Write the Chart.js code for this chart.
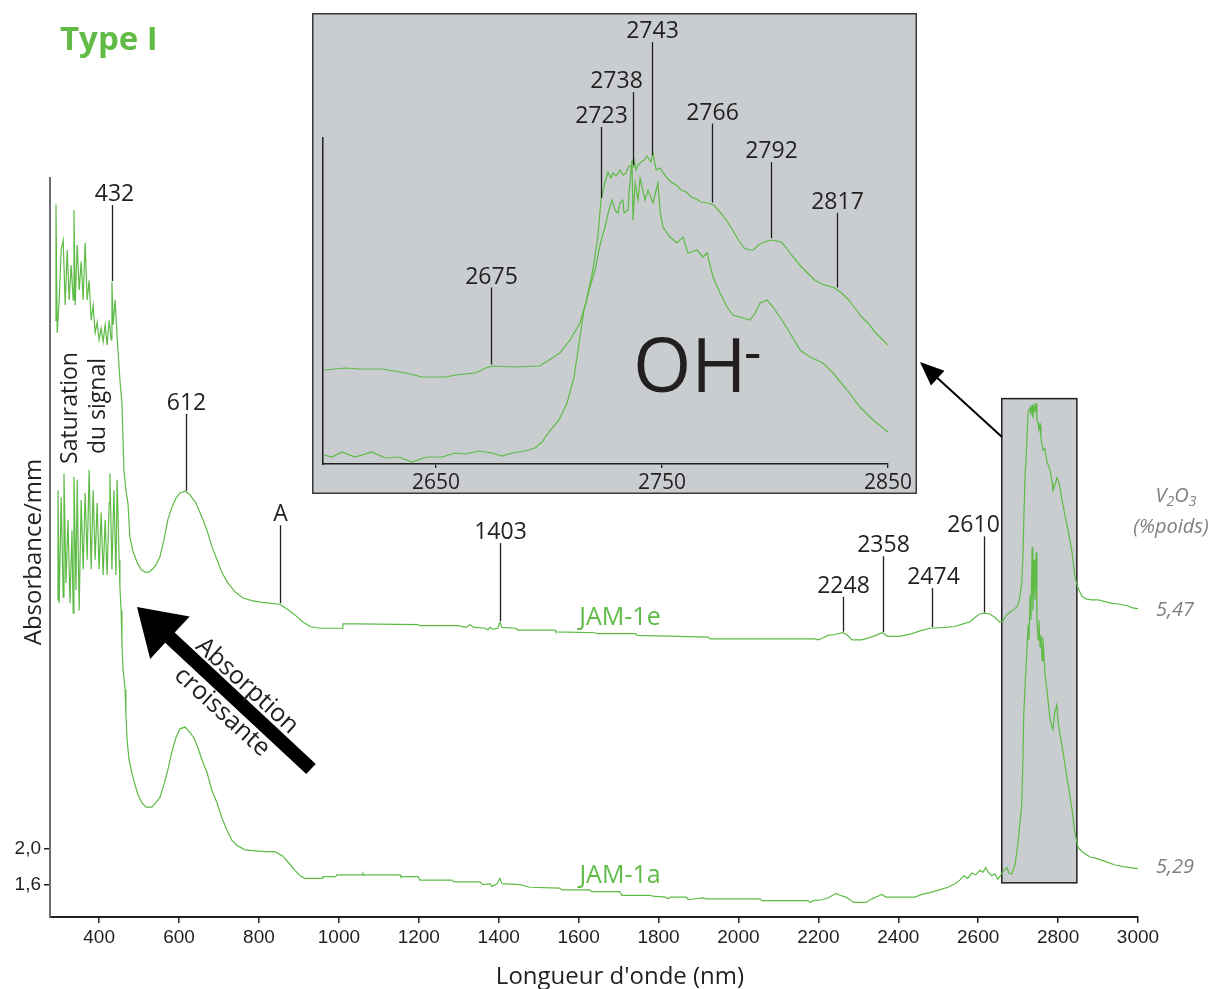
<!DOCTYPE html>
<html>
<head>
<meta charset="utf-8">
<script src="https://cdn.jsdelivr.net/npm/chart.js@4.4.0/dist/chart.umd.min.js"></script>
<style>
  body { margin: 0; background: #fff; }
  #wrap { position: relative; width: 1214px; height: 989px; }
  #main { position: absolute; left: 0; top: 0; }
  #inset { position: absolute; left: 312px; top: 13px; }
</style>
</head>
<body>
<div id="wrap">
  <canvas id="main" width="1214" height="989"></canvas>
  <canvas id="inset" width="605" height="481"></canvas>
</div>
<script>
// ---- data (wavelength nm, absorbance/mm) ----
var jam1e = [
  [290,7.94],[292,9.24],[295,7.80],[300,8.17],[305,8.73],[310,8.84],[315,8.11],[320,8.73],[325,8.17],[330,8.56],
  [335,8.17],[337,9.18],[340,8.11],[345,8.79],[350,8.28],[355,8.60],[360,8.17],[365,8.81],[370,8.17],[375,8.39],
  [380,7.94],[385,8.11],[390,7.80],[395,7.92],[400,7.72],[405,7.85],[410,7.70],[415,7.89],[420,7.66],[425,7.94],
  [430,7.72],[432,8.37],[435,7.89],[440,8.17],[445,7.75],
  [452,7.27],[457,7.01],[462,6.26],[467,6.03],[472,5.89],[477,5.50],[485,5.34],[495,5.22],[505,5.14],
  [515,5.11],[525,5.11],[532,5.14],[542,5.19],[552,5.28],[562,5.47],[572,5.70],[582,5.84],[592,5.94],[602,6.00],
  [615,6.02],[627,5.98],[642,5.89],[657,5.73],[670,5.58],[682,5.40],[695,5.25],[707,5.11],[722,4.99],[740,4.89],
  [760,4.82],[782,4.79],[807,4.77],[832,4.76],[852,4.75],[872,4.69],[890,4.63],[910,4.55],[928,4.50],[953,4.48],
  [1008,4.48],[1010,4.53],[1048,4.53],[1198,4.52],[1203,4.51],[1298,4.51],[1318,4.49],[1328,4.52],[1338,4.49],[1366,4.48],
  [1373,4.46],[1378,4.49],[1386,4.47],[1398,4.48],[1403,4.55],[1408,4.49],[1443,4.48],[1448,4.46],[1541,4.46],[1543,4.44],
  [1643,4.43],[1646,4.42],[1743,4.42],[1746,4.40],[1924,4.38],[1929,4.36],[2191,4.36],[2199,4.35],[2211,4.37],[2224,4.40],
  [2241,4.41],[2261,4.43],[2271,4.41],[2284,4.35],[2309,4.35],[2324,4.37],[2344,4.40],[2359,4.43],[2374,4.39],[2404,4.39],
  [2434,4.42],[2454,4.45],[2479,4.48],[2517,4.49],[2542,4.50],[2562,4.53],[2579,4.55],[2594,4.61],[2604,4.64],[2617,4.65],
  [2629,4.64],[2642,4.60],[2654,4.55],[2662,4.56],[2669,4.62],[2679,4.66],[2689,4.69],[2699,4.73],[2704,4.83],[2709,4.99],
  [2712,5.28],[2714,5.66],[2717,6.15],[2722,6.60],[2725,6.91],[2730,6.96],[2732,6.88],[2735,6.99],[2737,6.84],[2740,6.97],
  [2742,6.91],[2745,7.01],[2747,6.82],[2750,6.79],[2752,6.71],[2755,6.76],[2757,6.62],[2762,6.48],[2767,6.50],[2772,6.35],
  [2780,6.26],[2785,6.12],[2787,6.03],[2792,6.09],[2797,6.17],[2802,6.12],[2810,5.92],[2817,5.75],[2825,5.58],[2835,5.33],
  [2842,5.06],[2850,4.93],[2860,4.84],[2870,4.81],[2885,4.80],[2900,4.80],[2917,4.78],[2935,4.76],[2955,4.75],[2975,4.73],
  [2987,4.71],[3000,4.70]
];

var jam1a = [
  [295,4.80],[297,6.03],[300,4.76],[305,5.95],[310,4.83],[312,6.22],[317,4.99],[322,5.70],[327,4.76],[332,5.58],
  [335,4.65],[337,6.18],[342,4.91],[345,6.15],[350,4.68],[355,5.92],[360,5.14],[365,6.00],[370,5.25],[375,6.26],
  [380,5.14],[385,6.03],[390,5.25],[395,5.89],[400,5.14],[405,5.78],[410,5.08],[415,5.70],[420,5.08],[425,5.89],
  [427,6.22],[432,5.14],[437,6.03],[442,5.08],[445,6.15],[450,5.25],[452,4.94],
  [455,4.68],[457,4.31],[460,4.01],[465,3.79],[467,3.51],[470,3.22],
  [475,3.00],[482,2.85],[490,2.72],[497,2.61],[507,2.52],[517,2.47],[532,2.47],[542,2.52],[552,2.58],[562,2.72],
  [572,2.89],[582,3.09],[592,3.25],[602,3.35],[615,3.37],[627,3.31],[637,3.25],[647,3.14],[660,2.97],[670,2.86],
  [682,2.66],[695,2.52],[707,2.35],[720,2.21],[732,2.10],[745,2.04],[765,1.99],[790,1.98],[815,1.97],[840,1.97],
  [860,1.92],[875,1.84],[890,1.76],[903,1.70],[915,1.67],[958,1.67],[960,1.69],[992,1.69],[995,1.71],[1058,1.71],
  [1060,1.73],[1064,1.70],[1068,1.71],[1153,1.71],[1155,1.69],[1198,1.69],[1203,1.65],[1283,1.65],[1288,1.63],[1353,1.63],
  [1361,1.60],[1378,1.61],[1383,1.58],[1396,1.61],[1403,1.67],[1408,1.61],[1453,1.60],[1478,1.57],[1553,1.56],[1558,1.54],
  [1628,1.54],[1633,1.52],[1703,1.52],[1708,1.48],[1778,1.48],[1786,1.47],[1816,1.46],[1824,1.44],[1829,1.46],[1869,1.46],
  [1874,1.43],[1911,1.45],[1919,1.44],[2054,1.44],[2059,1.42],[2174,1.42],[2179,1.40],[2187,1.42],[2209,1.43],[2224,1.45],
  [2236,1.48],[2244,1.50],[2254,1.48],[2269,1.46],[2279,1.43],[2289,1.40],[2319,1.40],[2334,1.44],[2349,1.47],[2359,1.49],
  [2369,1.46],[2442,1.46],[2459,1.49],[2479,1.51],[2509,1.55],[2524,1.57],[2542,1.61],[2554,1.65],[2564,1.70],[2574,1.67],
  [2584,1.73],[2594,1.71],[2604,1.76],[2612,1.74],[2619,1.79],[2627,1.73],[2634,1.70],[2642,1.72],[2649,1.66],[2657,1.71],
  [2664,1.76],[2672,1.79],[2677,1.73],[2684,1.72],[2692,1.82],[2699,2.04],[2704,2.27],[2709,2.49],[2712,3.00],[2714,3.51],
  [2717,3.79],[2722,4.24],[2725,4.52],[2727,4.35],[2730,4.85],[2732,4.57],[2735,5.39],[2737,4.68],[2740,5.25],[2742,4.80],
  [2745,5.33],[2747,4.57],[2750,4.35],[2752,4.57],[2755,4.27],[2757,4.40],[2760,4.12],[2762,4.38],[2767,3.98],[2772,3.79],
  [2780,3.45],[2787,3.34],[2792,3.54],[2797,3.62],[2800,3.42],[2810,3.15],[2822,2.81],[2835,2.44],[2842,2.18],[2850,2.02],
  [2860,1.97],[2880,1.91],[2892,1.90],[2905,1.88],[2925,1.85],[2942,1.82],[2967,1.80],[3000,1.78]
];

// OH- region, inset (arbitrary units)
var inset1e = [
  [2600.4,0.94],[2609.9,0.96],[2616.1,0.95],[2626.3,0.95],[2636.5,0.91],[2644.0,0.87],[2654.2,0.87],[2658.7,0.89],
  [2667.5,0.91],[2672.0,0.96],[2675.1,0.98],[2684.0,0.97],[2695.9,0.98],[2698.6,1.02],[2704.8,1.11],[2709.3,1.24],
  [2713.7,1.41],[2716.3,1.61],[2719.4,1.94],[2721.6,2.27],[2723.0,2.64],[2724.7,2.81],[2726.1,2.92],[2727.4,2.86],
  [2728.3,2.91],[2729.7,2.88],[2731.4,2.94],[2732.7,2.89],[2734.1,2.91],[2735.4,2.98],[2737.2,2.97],[2737.6,3.06],
  [2738.5,2.94],[2739.4,2.99],[2740.7,3.02],[2742.1,3.04],[2743.4,3.08],[2745.1,3.02],[2746.0,3.11],[2747.4,2.94],
  [2749.2,2.96],[2750.5,2.91],[2752.3,2.86],[2754.0,2.82],[2756.3,2.79],[2758.5,2.74],[2760.7,2.72],[2762.9,2.67],
  [2765.1,2.65],[2767.3,2.62],[2770.0,2.61],[2772.7,2.59],[2774.9,2.54],[2777.1,2.48],[2779.3,2.41],[2781.5,2.33],
  [2783.8,2.24],[2786.4,2.16],[2788.6,2.14],[2790.4,2.14],[2792.7,2.19],[2795.3,2.22],[2798.4,2.24],[2800.6,2.23],
  [2802.9,2.22],[2805.1,2.16],[2807.3,2.09],[2809.5,2.03],[2811.7,1.97],[2814.4,1.91],[2817.5,1.84],[2820.6,1.80],
  [2823.7,1.78],[2826.4,1.76],[2829.5,1.71],[2832.6,1.64],[2835.3,1.56],[2838.4,1.47],[2841.5,1.40],[2844.2,1.32],
  [2847.3,1.25],[2850.0,1.19]
];
var inset1a = [
  [2600.4,0.09],[2604.0,0.07],[2608.4,0.12],[2614.2,0.07],[2621.7,0.12],[2627.4,0.06],[2633.6,0.07],[2639.4,0.02],
  [2646.0,0.07],[2652.7,0.07],[2658.4,0.11],[2662.8,0.10],[2669.0,0.13],[2674.8,0.11],[2679.2,0.08],[2683.6,0.11],
  [2689.4,0.13],[2693.8,0.16],[2696.9,0.22],[2700.0,0.32],[2704.4,0.44],[2708.0,0.61],[2711.1,0.87],[2713.3,1.21],
  [2715.5,1.54],[2718.1,1.77],[2720.4,1.94],[2722.1,2.14],[2723.5,2.27],[2724.8,2.37],[2726.5,2.54],[2727.9,2.64],
  [2729.2,2.54],[2730.5,2.51],[2731.4,2.61],[2732.7,2.64],[2733.2,2.51],[2735.0,2.54],[2735.4,2.71],[2736.7,3.04],
  [2737.2,2.44],[2738.1,2.81],[2739.4,2.64],[2740.3,2.86],[2742.5,2.64],[2743.8,2.74],[2746.0,2.61],[2748.2,2.81],
  [2749.1,2.54],[2750.4,2.37],[2753.5,2.27],[2756.6,2.21],[2759.3,2.27],[2761.5,2.11],[2765.5,2.14],[2768.1,2.07],
  [2769.9,2.11],[2772.6,1.87],[2775.7,1.71],[2778.8,1.57],[2781.4,1.49],[2785.8,1.46],[2788.9,1.44],[2791.2,1.51],
  [2793.4,1.61],[2796.5,1.64],[2799.1,1.57],[2803.1,1.44],[2806.6,1.31],[2811.1,1.14],[2815.5,1.07],[2821.2,1.01],
  [2825.7,0.91],[2831.9,0.74],[2837.6,0.57],[2843.4,0.44],[2850.0,0.32]
];

var xTicks = [400, 600, 800, 1000, 1200, 1400, 1600, 1800, 2000, 2200, 2400, 2600, 2800, 3000];
var yTicks = [1.6, 2.0];
var insetTicks = [2650, 2750, 2850];

var peakLabels = ['432', '612', 'A', '1403', '2248', '2358', '2474', '2610'];
var peakNm = [432, 617, 852, 1403, 2261, 2361, 2484, 2614];
var insetLabels = ['2675', '2723', '2738', '2743', '2766', '2792', '2817'];
var insetNm = [2674.3, 2723.0, 2737.2, 2745.6, 2772.1, 2798.2, 2827.4];
var oxideLabels = ['5,47', '5,29'];

// ---- styling ----
var green = '#5dbb46';
var ink = '#231f20';
var greyText = '#7d7f82';
var boxFill = '#c9cdd0';
var leaderLen = [76, 77, 78, 78, 35, 76, 39, 76];
var labelDx = [2, 0, 0, 0, 0, 0, 1, -11];
var insetLeader = [77, 71, 73, 113, 79, 76, 75];
var insetDx = [0, 0, -17, 0, 0, 0, 0];

Chart.defaults.font.family = '"Open Sans", sans-serif';
Chart.defaults.color = ink;

function valueAt(series, nm) {
  for (var i = 1; i < series.length; i++) {
    if (series[i][0] >= nm) {
      var a = series[i - 1], b = series[i];
      return a[1] + (b[1] - a[1]) * (nm - a[0]) / (b[0] - a[0]);
    }
  }
  return series[series.length - 1][1];
}

function txt(ctx, s, x, y, font, color, align, rot, base) {
  ctx.save();
  ctx.translate(x, y);
  if (rot) ctx.rotate(rot);
  ctx.font = font;
  ctx.fillStyle = color;
  ctx.textAlign = align || 'center';
  ctx.textBaseline = base || 'alphabetic';
  ctx.fillText(s, 0, 0);
  ctx.restore();
}

function toPts(series) {
  return series.map(function (p) { return { x: p[0], y: p[1] }; });
}

// big arrow "Absorption croissante"
function bigArrow(ctx, tip, tail, headLen, headHalf, shaftHalf) {
  var dx = tail[0] - tip[0], dy = tail[1] - tip[1];
  var L = Math.sqrt(dx * dx + dy * dy);
  var ux = dx / L, uy = dy / L, nx = -uy, ny = ux;
  var bx = tip[0] + ux * headLen, by = tip[1] + uy * headLen;
  ctx.beginPath();
  ctx.moveTo(tip[0], tip[1]);
  ctx.lineTo(bx + nx * headHalf, by + ny * headHalf);
  ctx.lineTo(bx + nx * shaftHalf, by + ny * shaftHalf);
  ctx.lineTo(tail[0] + nx * shaftHalf, tail[1] + ny * shaftHalf);
  ctx.lineTo(tail[0] - nx * shaftHalf, tail[1] - ny * shaftHalf);
  ctx.lineTo(bx - nx * shaftHalf, by - ny * shaftHalf);
  ctx.lineTo(bx - nx * headHalf, by - ny * headHalf);
  ctx.closePath();
  ctx.fill();
}

var zoomBox = { nm: [2659, 2847], abs: [1.62, 7.06] };

var mainDecor = {
  id: 'mainDecor',
  beforeDatasetsDraw: function (chart) {
    var ctx = chart.ctx, x = chart.scales.x, y = chart.scales.y;
    var l = x.getPixelForValue(zoomBox.nm[0]), r = x.getPixelForValue(zoomBox.nm[1]);
    var t = y.getPixelForValue(zoomBox.abs[1]), b = y.getPixelForValue(zoomBox.abs[0]);
    ctx.save();
    ctx.fillStyle = boxFill;
    ctx.fillRect(l, t, r - l, b - t);
    ctx.lineWidth = 1.5;
    ctx.strokeStyle = ink;
    ctx.strokeRect(l, t, r - l, b - t);
    ctx.restore();
  },
  afterDatasetsDraw: function (chart) {
    var ctx = chart.ctx, x = chart.scales.x, y = chart.scales.y;
    ctx.save();
    ctx.strokeStyle = ink;
    ctx.lineWidth = 1.3;
    peakLabels.forEach(function (lab, i) {
      var px = Math.round(x.getPixelForValue(peakNm[i])) + 0.5;
      var bottom = y.getPixelForValue(valueAt(jam1e, peakNm[i])) - 1;
      var top = bottom - leaderLen[i];
      ctx.beginPath(); ctx.moveTo(px, top); ctx.lineTo(px, bottom); ctx.stroke();
      txt(ctx, lab, px + labelDx[i], top - 4, '23px "Open Sans"', ink);
    });

    // series names
    txt(ctx, 'JAM-1e', 620, 625, '25px "Open Sans"', green);
    txt(ctx, 'JAM-1a', 620, 883, '25px "Open Sans"', green);

    // V2O3 contents
    txt(ctx, oxideLabels[0], 1175, 616, 'italic 20px "Open Sans"', greyText);
    txt(ctx, oxideLabels[1], 1175, 873, 'italic 20px "Open Sans"', greyText);
    var parts = [['V', 0, 20], ['2', 4, 14], ['O', 0, 20], ['3', 4, 14]];
    var w = 0;
    parts.forEach(function (p) { ctx.font = 'italic ' + p[2] + 'px "Open Sans"'; w += ctx.measureText(p[0]).width; });
    var cx = 1176 - w / 2;
    parts.forEach(function (p) {
      ctx.font = 'italic ' + p[2] + 'px "Open Sans"';
      txt(ctx, p[0], cx, 502 + p[1], ctx.font, greyText, 'left');
      ctx.font = 'italic ' + p[2] + 'px "Open Sans"';
      cx += ctx.measureText(p[0]).width;
    });
    txt(ctx, '(%poids)', 1171, 533, 'italic 20px "Open Sans"', greyText);

    // titles
    txt(ctx, 'Type I', 60, 50, 'bold 33px "Open Sans"', '#62bb46', 'left');
    txt(ctx, 'Absorbance/mm', 41, 552, '24px "Open Sans"', ink, 'center', -Math.PI / 2);
    txt(ctx, "Longueur d'onde (nm)", 620, 984, '24px "Open Sans"', ink);
    txt(ctx, 'Saturation', 77, 408, '23px "Open Sans"', ink, 'center', -Math.PI / 2);
    txt(ctx, 'du signal', 105, 406, '23px "Open Sans"', ink, 'center', -Math.PI / 2);

    // big arrow + text
    ctx.fillStyle = '#000';
    bigArrow(ctx, [137, 607], [311, 769], 45, 29, 7);
    var ang = Math.atan2(160, 175);
    txt(ctx, 'Absorption', 247, 686, '25px "Open Sans"', ink, 'center', ang, 'middle');
    txt(ctx, 'croissante', 222, 712, '25px "Open Sans"', ink, 'center', ang, 'middle');

    // thin arrow to inset
    ctx.strokeStyle = '#000';
    ctx.lineWidth = 2;
    var tip = [920, 362], from = [1002, 437];
    var dx = from[0] - tip[0], dy = from[1] - tip[1], L = Math.sqrt(dx * dx + dy * dy);
    var ux = dx / L, uy = dy / L;
    ctx.beginPath(); ctx.moveTo(from[0], from[1]); ctx.lineTo(tip[0] + ux * 18, tip[1] + uy * 18); ctx.stroke();
    ctx.beginPath();
    ctx.moveTo(tip[0], tip[1]);
    ctx.lineTo(tip[0] + ux * 24 - uy * 10, tip[1] + uy * 24 + ux * 10);
    ctx.lineTo(tip[0] + ux * 24 + uy * 10, tip[1] + uy * 24 - ux * 10);
    ctx.closePath();
    ctx.fill();
    ctx.restore();
  }
};

new Chart(document.getElementById('main'), {
  type: 'line',
  data: {
    datasets: [
      { label: 'JAM-1e', data: toPts(jam1e), borderColor: green, borderWidth: 1.2, pointRadius: 0, tension: 0, fill: false },
      { label: 'JAM-1a', data: toPts(jam1a), borderColor: green, borderWidth: 1.2, pointRadius: 0, tension: 0, fill: false }
    ]
  },
  options: {
    responsive: false,
    animation: false,
    events: [],
    layout: { padding: { top: 178, right: 76, bottom: 0, left: 0 } },
    plugins: { legend: { display: false }, tooltip: { enabled: false } },
    scales: {
      x: {
        type: 'linear', min: 277, max: 3000,
        afterBuildTicks: function (s) { s.ticks = xTicks.map(function (v) { return { value: v }; }); },
        afterFit: function (s) { s.height = 72; },
        ticks: { font: { family: '"Liberation Sans"', size: 19 }, color: ink, padding: 3, maxRotation: 0,
                 callback: function (v) { return String(v); } },
        grid: { display: true, drawOnChartArea: false, drawTicks: true, tickLength: 6, color: ink, lineWidth: 1.5 },
        border: { display: true, color: ink, width: 2 }
      },
      y: {
        type: 'linear', min: 1.236, max: 9.539,
        afterBuildTicks: function (s) { s.ticks = yTicks.map(function (v) { return { value: v }; }); },
        afterFit: function (s) { s.width = 50; },
        ticks: { font: { family: '"Liberation Sans"', size: 19 }, color: ink, padding: 3,
                 callback: function (v) { return v.toFixed(1).replace('.', ','); } },
        grid: { display: true, drawOnChartArea: false, drawTicks: true, tickLength: 6, color: ink, lineWidth: 1.5 },
        border: { display: true, color: '#6d6e71', width: 2 }
      }
    }
  },
  plugins: [mainDecor]
});

var insetDecor = {
  id: 'insetDecor',
  beforeDraw: function (chart) {
    var ctx = chart.ctx;
    ctx.save();
    ctx.fillStyle = boxFill;
    ctx.fillRect(0, 0, chart.width, chart.height);
    ctx.restore();
  },
  afterDraw: function (chart) {
    var ctx = chart.ctx, x = chart.scales.x, y = chart.scales.y;
    ctx.save();
    ctx.strokeStyle = ink;
    ctx.lineWidth = 1.3;
    insetLabels.forEach(function (lab, i) {
      var px = Math.round(x.getPixelForValue(insetNm[i])) + 0.5;
      var bottom = y.getPixelForValue(valueAt(inset1e, insetNm[i])) - 2;
      var top = bottom - insetLeader[i];
      ctx.beginPath(); ctx.moveTo(px, top); ctx.lineTo(px, bottom); ctx.stroke();
      txt(ctx, lab, px + insetDx[i], top - 4, '23px "Open Sans"', ink);
    });
    txt(ctx, 'OH', 321, 379, '75px "Open Sans"', ink, 'left');
    txt(ctx, '-', 432, 358, '54px "Open Sans"', ink, 'left');
    ctx.lineWidth = 1.5;
    ctx.strokeStyle = '#3a3a3a';
    ctx.strokeRect(0.75, 0.75, chart.width - 1.5, chart.height - 1.5);
    ctx.restore();
  }
};

new Chart(document.getElementById('inset'), {
  type: 'line',
  data: {
    datasets: [
      { label: 'JAM-1e', data: toPts(inset1e), borderColor: green, borderWidth: 1.2, pointRadius: 0, tension: 0, fill: false },
      { label: 'JAM-1a', data: toPts(inset1a), borderColor: green, borderWidth: 1.2, pointRadius: 0, tension: 0, fill: false }
    ]
  },
  options: {
    responsive: false,
    animation: false,
    events: [],
    layout: { padding: { top: 125, right: 29, bottom: 0, left: 11 } },
    plugins: { legend: { display: false }, tooltip: { enabled: false } },
    scales: {
      x: {
        type: 'linear', min: 2600, max: 2850,
        afterBuildTicks: function (s) { s.ticks = insetTicks.map(function (v) { return { value: v }; }); },
        afterFit: function (s) { s.height = 30; },
        ticks: { font: { size: 21 }, color: ink, padding: 2, maxRotation: 0,
                 callback: function (v) { return String(v); } },
        grid: { display: true, drawOnChartArea: false, drawTicks: true, tickLength: 4, color: ink, lineWidth: 1.3 },
        border: { display: true, color: ink, width: 1.5 }
      },
      y: {
        type: 'linear', min: 0, max: 3.26,
        afterFit: function (s) { s.width = 0; },
        ticks: { display: false },
        grid: { display: false },
        border: { display: true, color: ink, width: 1.5 }
      }
    }
  },
  plugins: [insetDecor]
});
</script>
</body>
</html>
